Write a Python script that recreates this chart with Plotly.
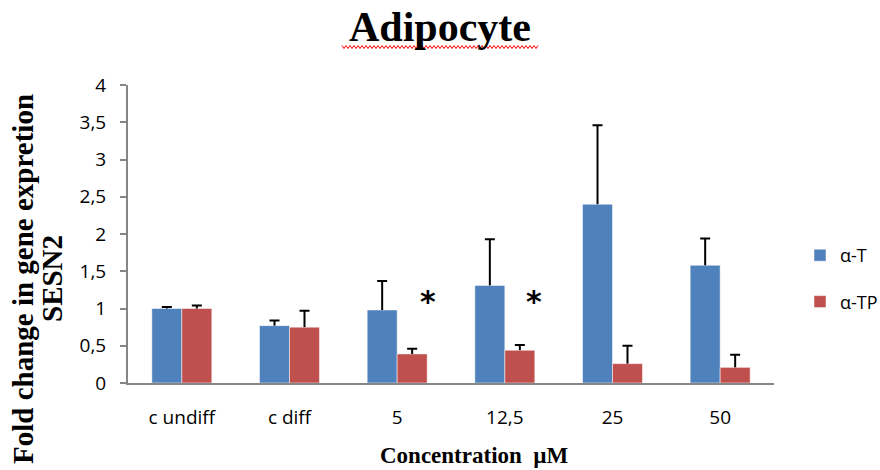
import plotly.graph_objects as go

categories = ["c undiff", "c diff", "5", "12,5", "25", "50"]
alpha_t = [1.00, 0.77, 0.98, 1.31, 2.40, 1.58]
alpha_t_err = [0.02, 0.07, 0.39, 0.62, 1.06, 0.36]
alpha_tp = [1.00, 0.75, 0.39, 0.44, 0.26, 0.21]
alpha_tp_err = [0.04, 0.22, 0.07, 0.07, 0.24, 0.17]
y_tick_vals = [0, 0.5, 1, 1.5, 2, 2.5, 3, 3.5, 4]
y_tick_text = ["0", "0,5", "1", "1,5", "2", "2,5", "3", "3,5", "4"]
star_positions = [2.29, 3.27]
star_y = [1.10, 1.10]

BLUE = "#4F81BD"
RED = "#C0504D"
AXIS = "#868686"

W, H = 880, 470
L, RIGHT = 128, 774
R = W - RIGHT
T, B = 85, 87
pw, ph = W - L - R, H - T - B


def px_x(p):
    return (p - L) / pw


def px_y(p):
    return (H - B - p) / ph


fig = go.Figure()

for name, vals, errs, col, grp in [("α-T", alpha_t, alpha_t_err, BLUE, "a"),
                                    ("α-TP", alpha_tp, alpha_tp_err, RED, "b")]:
    fig.add_trace(go.Bar(
        x=categories, y=vals, name=name, offsetgroup=grp, legendgroup=grp,
        marker=dict(color=col, line=dict(color="rgba(255,255,255,0.5)", width=1)),
        error_y=dict(type="data", symmetric=False, array=errs,
                     arrayminus=[0] * len(errs), width=0, thickness=2, color="black"),
    ))
    fig.add_trace(go.Bar(
        x=categories, y=[v + e for v, e in zip(vals, errs)], offsetgroup=grp,
        showlegend=False, hoverinfo="skip",
        marker=dict(color="rgba(0,0,0,0)", line=dict(width=0)),
        error_y=dict(type="data", array=[0] * len(errs), width=5,
                     thickness=2, color="black"),
    ))

for sx, sy in zip(star_positions, star_y):
    fig.add_annotation(x=sx, y=sy, xref="x", yref="y", text="<b>*</b>",
                       showarrow=False,
                       font=dict(family="DejaVu Sans", size=30, color="black"))

# title
fig.add_annotation(x=px_x(440), xref="paper", y=px_y(27), yref="paper",
                   text="<b>Adipocyte</b>", showarrow=False,
                   xanchor="center", yanchor="middle",
                   font=dict(family="Liberation Serif", size=42, color="black"))

# red wavy underline
pts = []
xx = 342
up = True
while xx <= 538:
    pts.append((px_x(xx), px_y(45.5 if up else 48.5)))
    up = not up
    xx += 2
path = "M " + " L ".join(f"{a:.5f},{b:.5f}" for a, b in pts)
fig.add_shape(type="path", path=path, xref="paper", yref="paper",
              line=dict(color="red", width=1))

# y title (two lines placed separately for tighter line spacing)
fig.add_annotation(x=px_x(23), y=px_y(279), xref="paper", yref="paper",
                   text="<b>Fold change in gene expretion</b>",
                   textangle=-90, showarrow=False,
                   xanchor="center", yanchor="middle",
                   font=dict(family="Liberation Serif", size=29, color="black"))
fig.add_annotation(x=px_x(52), y=px_y(279), xref="paper", yref="paper",
                   text="<b>SESN2</b>",
                   textangle=-90, showarrow=False,
                   xanchor="center", yanchor="middle",
                   font=dict(family="Liberation Serif", size=29, color="black"))

# x title
fig.add_annotation(x=px_x(474), y=px_y(455), xref="paper", yref="paper",
                   text="<b>Concentration  µM</b>", showarrow=False,
                   xanchor="center", yanchor="middle",
                   font=dict(family="Liberation Serif", size=23, color="black"))

fig.update_layout(
    width=W, height=H,
    margin=dict(l=L, r=R, t=T, b=B, autoexpand=False),
    paper_bgcolor="white", plot_bgcolor="white",
    barmode="group", bargap=0.443, bargroupgap=0,
    showlegend=True,
    legend=dict(x=px_x(800), y=px_y(237), xanchor="left", yanchor="top",
                traceorder="grouped", tracegroupgap=20,
                font=dict(family="Open Sans", size=18, color="black"),
                bgcolor="rgba(0,0,0,0)"),
    xaxis=dict(showline=True, linecolor=AXIS, linewidth=2, ticks="",
               showgrid=False, zeroline=False, ticklabelstandoff=16,
               tickfont=dict(family="Open Sans", size=19, color="black")),
    yaxis=dict(range=[0, 4], tickvals=y_tick_vals, ticktext=y_tick_text,
               showline=True, linecolor=AXIS, linewidth=2, ticks="outside",
               ticklen=6, tickcolor=AXIS, tickwidth=2, ticklabelstandoff=10,
               showgrid=False, zeroline=False,
               tickfont=dict(family="Open Sans", size=19, color="black")),
)

fig.write_html("out.html", config={"displayModeBar": False},
               post_script="document.body.style.margin='0px';")
